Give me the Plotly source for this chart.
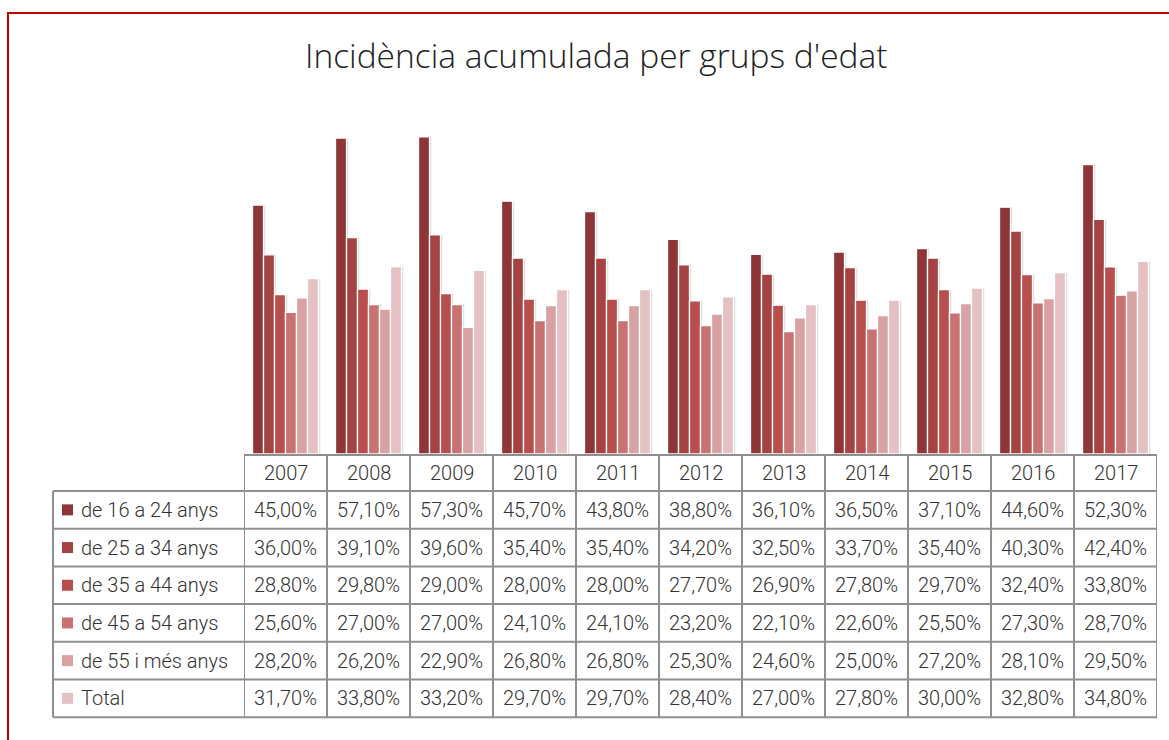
import plotly.graph_objects as go

# Incidència acumulada (%) per grup d'edat i any
years = ["2007", "2008", "2009", "2010", "2011", "2012",
         "2013", "2014", "2015", "2016", "2017"]
groups = ["de 16 a 24 anys", "de 25 a 34 anys", "de 35 a 44 anys",
          "de 45 a 54 anys", "de 55 i més anys", "Total"]
v_16_24 = [45.0, 57.1, 57.3, 45.7, 43.8, 38.8, 36.1, 36.5, 37.1, 44.6, 52.3]
v_25_34 = [36.0, 39.1, 39.6, 35.4, 35.4, 34.2, 32.5, 33.7, 35.4, 40.3, 42.4]
v_35_44 = [28.8, 29.8, 29.0, 28.0, 28.0, 27.7, 26.9, 27.8, 29.7, 32.4, 33.8]
v_45_54 = [25.6, 27.0, 27.0, 24.1, 24.1, 23.2, 22.1, 22.6, 25.5, 27.3, 28.7]
v_55_mes = [28.2, 26.2, 22.9, 26.8, 26.8, 25.3, 24.6, 25.0, 27.2, 28.1, 29.5]
v_total = [31.7, 33.8, 33.2, 29.7, 29.7, 28.4, 27.0, 27.8, 30.0, 32.8, 34.8]
series = [v_16_24, v_25_34, v_35_44, v_45_54, v_55_mes, v_total]
colors = ["#8E3538", "#A54342", "#B84F4D", "#C87272", "#D8A1A2", "#E5C1C3"]

W, H = 1169, 740
FONT = "Roboto"
TITLE_FONT = "Open Sans"
TXT = "#333333"
GRID = "#8F8F8F"

# plot area in pixels
px_left, px_right = 244, 1157
px_base, px_top = 454, 122
label_left = 53
header_top = 455
header_h = 36
row_h = 37.7


def py(p):
    return 1 - p / H


def pxx(p):
    return p / W


fig = go.Figure()

bar_w = 0.1325
start = -3 * bar_w
# soft drop shadows behind the bars
for k, vals in enumerate(series):
    fig.add_trace(go.Bar(
        x=years, y=vals, width=bar_w, offset=start + k * bar_w + 0.022,
        marker=dict(color="rgba(0,0,0,0.13)", line=dict(width=0)),
        hoverinfo="skip", showlegend=False))
for k, (name, vals) in enumerate(zip(groups, series)):
    fig.add_trace(go.Bar(
        x=years, y=vals, name=name, width=bar_w, offset=start + k * bar_w,
        marker=dict(color=colors[k], line=dict(color="white", width=1.3)),
        showlegend=False))

shapes = []
annotations = []

# outer red frame
shapes.append(dict(type="rect", xref="paper", yref="paper",
                   x0=pxx(8), x1=pxx(W + 20), y0=py(13), y1=py(H + 20),
                   line=dict(color="#C00000", width=2), fillcolor="rgba(0,0,0,0)",
                   layer="below"))

rows_top = header_top + header_h
rows_bottom = rows_top + row_h * len(groups)
line = dict(color=GRID, width=2)

# header row (years only)
shapes.append(dict(type="line", xref="paper", yref="paper",
                   x0=pxx(px_left), x1=pxx(px_right), y0=py(header_top), y1=py(header_top), line=line))
# vertical lines across year columns
for i in range(len(years) + 1):
    shapes.append(dict(type="line", xref="x", yref="paper",
                       x0=i - 0.5, x1=i - 0.5, y0=py(header_top), y1=py(rows_bottom), line=line))
# left border of the label column
shapes.append(dict(type="line", xref="paper", yref="paper",
                   x0=pxx(label_left), x1=pxx(label_left), y0=py(rows_top), y1=py(rows_bottom), line=line))
# horizontal lines of data rows
for r in range(len(groups) + 1):
    yy = py(rows_top + r * row_h)
    shapes.append(dict(type="line", xref="paper", yref="paper",
                       x0=pxx(label_left), x1=pxx(px_right), y0=yy, y1=yy, line=line))

cell_font = dict(family=FONT, size=20, color=TXT, weight=300)

# year headers
for i, yr in enumerate(years):
    annotations.append(dict(x=i, xref="x", y=py(header_top + header_h / 2), yref="paper",
                            text=yr, showarrow=False, font=cell_font,
                            xanchor="center", yanchor="middle"))

# row labels, legend keys and values
for r, (name, vals) in enumerate(zip(groups, series)):
    yc = rows_top + r * row_h + row_h / 2
    shapes.append(dict(type="rect", xref="paper", yref="paper",
                       x0=pxx(62), x1=pxx(73), y0=py(yc - 5.5), y1=py(yc + 5.5),
                       fillcolor=colors[r], line=dict(width=0)))
    annotations.append(dict(x=pxx(79), xref="paper", y=py(yc), yref="paper",
                            text=name, showarrow=False, font=cell_font,
                            xanchor="left", yanchor="middle"))
    for i, v in enumerate(vals):
        txt = f"{v:.2f}".replace(".", ",") + "%"
        annotations.append(dict(x=i, xref="x", y=py(yc), yref="paper",
                                text=txt, showarrow=False, font=cell_font,
                                xanchor="center", yanchor="middle"))

fig.update_layout(
    width=W, height=H,
    margin=dict(l=0, r=0, t=0, b=0),
    paper_bgcolor="white", plot_bgcolor="white",
    barmode="overlay",
    title=dict(text="Incidència acumulada per grups d'edat",
               x=0.51, xanchor="center", y=py(56), yanchor="middle",
               font=dict(family=TITLE_FONT, size=33.5, color="#222222", weight=300)),
    xaxis=dict(type="category", range=[-0.5, len(years) - 0.5],
               domain=[pxx(px_left), pxx(px_right)],
               showticklabels=False, showgrid=False, zeroline=False, showline=False,
               ticks=""),
    yaxis=dict(range=[0, 60], domain=[py(px_base), py(px_top)],
               showticklabels=False, showgrid=False, zeroline=False, showline=False),
    shapes=shapes, annotations=annotations,
    showlegend=False,
)

fig.write_html("out.html")
